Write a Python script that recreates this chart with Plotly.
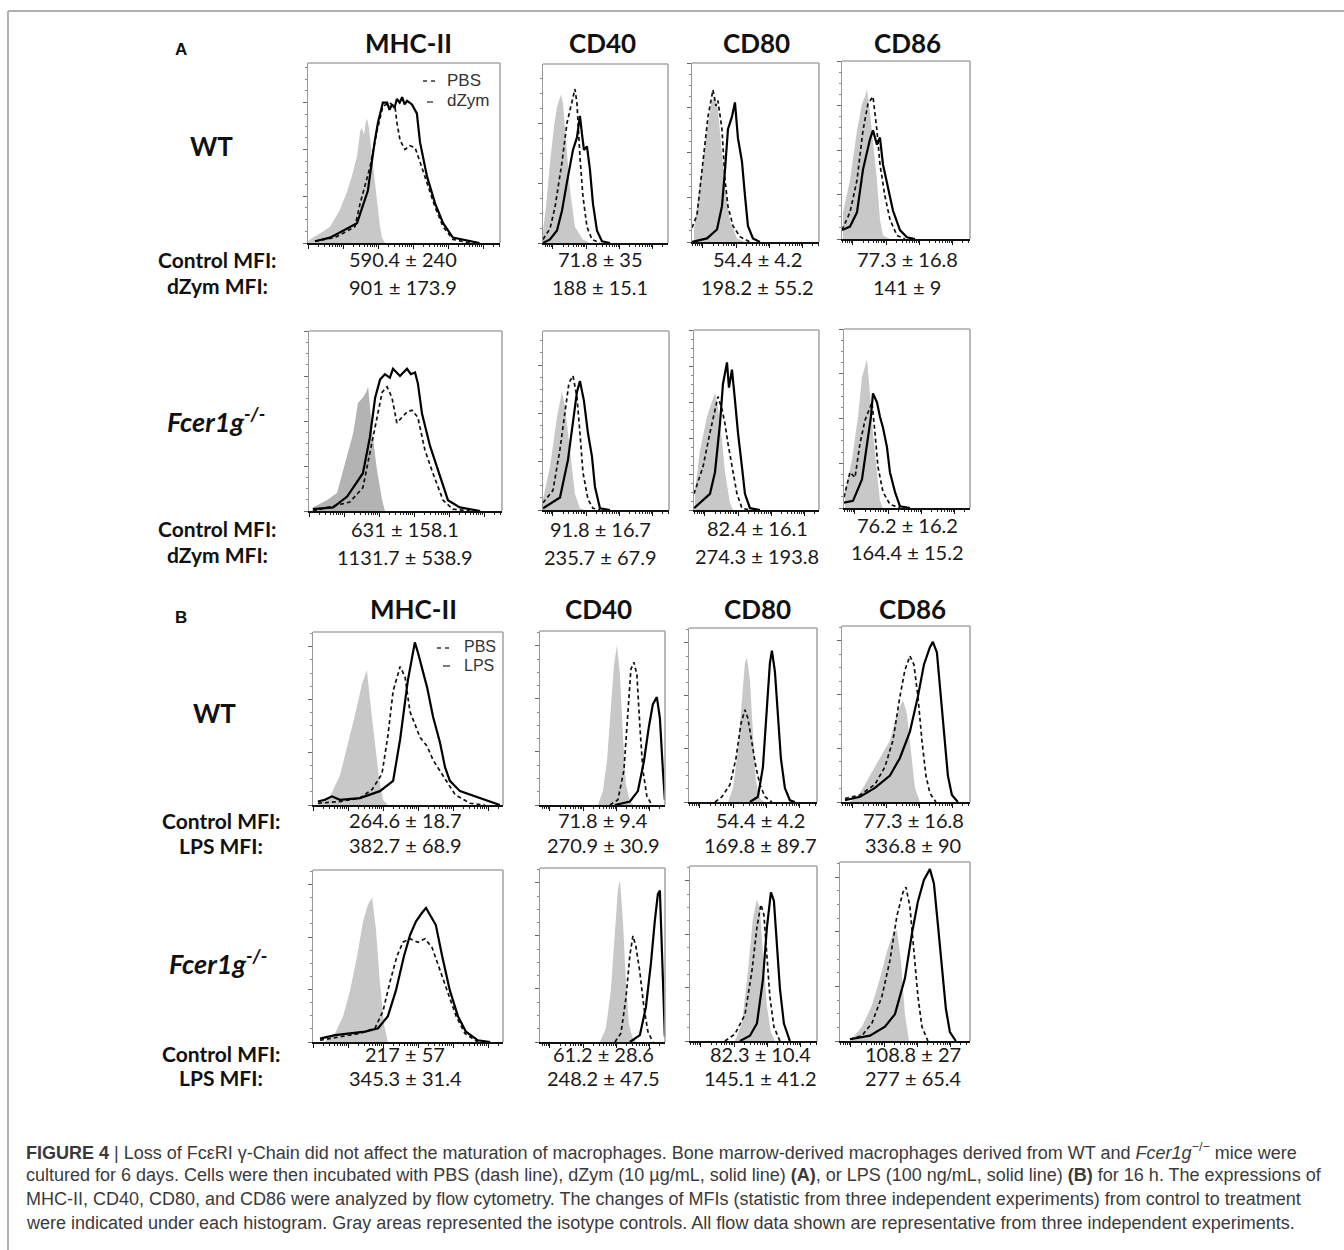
import math
import plotly.graph_objects as go

W, H = 1344, 1250

# ---------------- text data ----------------
markers = ["MHC-II", "CD40", "CD80", "CD86"]
a_wt_control = ["590.4 ± 240", "71.8 ± 35", "54.4 ± 4.2", "77.3 ± 16.8"]
a_wt_treat = ["901 ± 173.9", "188 ± 15.1", "198.2 ± 55.2", "141 ± 9"]
a_ko_control = ["631 ± 158.1", "91.8 ± 16.7", "82.4 ± 16.1", "76.2 ± 16.2"]
a_ko_treat = ["1131.7 ± 538.9", "235.7 ± 67.9", "274.3 ± 193.8", "164.4 ± 15.2"]
b_wt_control = ["264.6 ± 18.7", "71.8 ± 9.4", "54.4 ± 4.2", "77.3 ± 16.8"]
b_wt_treat = ["382.7 ± 68.9", "270.9 ± 30.9", "169.8 ± 89.7", "336.8 ± 90"]
b_ko_control = ["217 ± 57", "61.2 ± 28.6", "82.3 ± 10.4", "108.8 ± 27"]
b_ko_treat = ["345.3 ± 31.4", "248.2 ± 47.5", "145.1 ± 41.2", "277 ± 65.4"]

# ---------------- histogram data: [log10 fluorescence, % of mode] ----------------
# Panel A, WT
a_wt_mhc_iso = [[0.0, 1], [0.14, 3], [0.4, 6], [0.63, 9], [0.9, 18], [1.11, 28], [1.25, 37], [1.4, 48], [1.49, 62], [1.54, 64], [1.6, 60], [1.65, 67], [1.69, 69], [1.74, 64], [1.83, 48], [1.9, 35], [1.97, 22], [2.05, 10], [2.11, 3], [2.2, 0]]
a_wt_mhc_pbs = [[0.2, 1], [0.77, 3], [1.34, 9], [1.49, 22], [1.77, 42], [1.97, 62], [2.14, 76], [2.34, 78], [2.49, 75], [2.54, 67], [2.63, 57], [2.77, 52], [2.91, 54], [3.06, 53], [3.2, 45], [3.4, 33], [3.63, 20], [3.86, 9], [4.14, 2], [4.63, 0]]
a_wt_mhc_trt = [[0.2, 1], [0.63, 3], [1.4, 11], [1.71, 29], [1.91, 57], [2.0, 67], [2.14, 78], [2.26, 78], [2.33, 74], [2.4, 77], [2.47, 75], [2.54, 80], [2.62, 78], [2.69, 81], [2.76, 77], [2.83, 79], [2.97, 77], [3.11, 72], [3.2, 56], [3.4, 37], [3.63, 22], [3.86, 11], [4.14, 3], [4.63, 1], [4.9, 0]]
a_wt_cd40_iso = [[0.7, 7], [0.79, 20], [0.91, 45], [1.03, 65], [1.12, 76], [1.24, 83], [1.3, 78], [1.36, 63], [1.45, 45], [1.51, 30], [1.66, 9], [1.9, 2], [2.11, 0]]
a_wt_cd40_pbs = [[0.7, 2], [0.91, 8], [1.06, 20], [1.27, 45], [1.42, 67], [1.54, 76], [1.66, 86], [1.72, 78], [1.81, 48], [1.9, 26], [2.02, 9], [2.17, 2], [2.41, 0]]
a_wt_cd40_trt = [[0.7, 0], [0.91, 2], [1.12, 7], [1.27, 18], [1.42, 34], [1.6, 52], [1.72, 59], [1.81, 71], [1.87, 61], [1.93, 52], [2.02, 54], [2.11, 41], [2.2, 22], [2.32, 7], [2.47, 1], [2.71, 0]]
a_wt_cd80_iso = [[0.73, 7], [0.82, 20], [0.91, 35], [1.03, 50], [1.12, 63], [1.27, 79], [1.36, 81], [1.45, 74], [1.57, 50], [1.66, 31], [1.81, 12], [2.02, 2], [2.26, 0]]
a_wt_cd80_pbs = [[0.67, 8], [0.82, 15], [1.0, 45], [1.15, 70], [1.3, 85], [1.39, 76], [1.45, 79], [1.57, 63], [1.66, 35], [1.75, 20], [1.9, 9], [2.11, 3], [2.41, 0]]
a_wt_cd80_trt = [[0.67, 0], [1.12, 2], [1.42, 7], [1.57, 20], [1.66, 40], [1.75, 63], [1.87, 70], [1.96, 78], [2.05, 58], [2.17, 45], [2.26, 26], [2.35, 9], [2.5, 2], [2.71, 0]]
a_wt_cd86_iso = [[0.7, 15], [0.91, 33], [1.12, 61], [1.27, 76], [1.36, 80], [1.42, 84], [1.51, 71], [1.6, 56], [1.72, 33], [1.81, 11], [1.9, 2], [2.11, 0]]
a_wt_cd86_pbs = [[0.67, 5], [0.91, 15], [1.12, 33], [1.3, 61], [1.45, 76], [1.6, 80], [1.72, 61], [1.81, 42], [1.96, 24], [2.11, 11], [2.32, 2], [2.56, 0]]
a_wt_cd86_trt = [[0.67, 5], [0.91, 7], [1.12, 15], [1.3, 39], [1.51, 56], [1.6, 61], [1.72, 53], [1.81, 57], [1.9, 42], [2.05, 29], [2.2, 16], [2.41, 5], [2.62, 1], [2.86, 0]]
# Panel A, Fcer1g-/-
a_ko_mhc_iso = [[0.11, 2], [0.51, 6], [0.8, 10], [1.09, 30], [1.26, 43], [1.4, 60], [1.54, 63], [1.63, 66], [1.69, 69], [1.8, 45], [1.94, 23], [2.09, 6], [2.17, 0]]
a_ko_mhc_pbs = [[0.11, 0], [1.17, 5], [1.54, 13], [1.74, 32], [1.94, 51], [2.09, 66], [2.23, 69], [2.37, 63], [2.51, 49], [2.66, 52], [2.8, 55], [2.94, 56], [3.11, 52], [3.31, 34], [3.54, 21], [3.83, 6], [4.11, 1], [4.6, 0]]
a_ko_mhc_trt = [[0.11, 1], [0.69, 2], [1.09, 8], [1.54, 21], [1.74, 41], [1.89, 63], [2.03, 73], [2.17, 76], [2.31, 74], [2.4, 79], [2.6, 75], [2.8, 79], [2.91, 76], [3.03, 77], [3.11, 71], [3.23, 54], [3.46, 36], [3.74, 19], [3.97, 6], [4.31, 2], [4.89, 0]]
a_ko_cd40_iso = [[0.7, 6], [0.91, 24], [1.12, 52], [1.27, 66], [1.36, 58], [1.45, 43], [1.57, 24], [1.66, 9], [1.81, 1], [1.96, 0]]
a_ko_cd40_pbs = [[0.7, 4], [1.0, 11], [1.21, 34], [1.36, 56], [1.48, 71], [1.6, 75], [1.72, 63], [1.81, 43], [1.9, 21], [2.05, 6], [2.2, 1], [2.41, 0]]
a_ko_cd40_trt = [[0.7, 1], [1.21, 7], [1.45, 28], [1.6, 49], [1.72, 66], [1.81, 72], [1.93, 61], [2.05, 43], [2.17, 30], [2.26, 13], [2.41, 1], [2.71, 0]]
a_ko_cd80_iso = [[0.7, 11], [0.85, 33], [1.06, 52], [1.21, 61], [1.3, 65], [1.39, 57], [1.51, 39], [1.6, 21], [1.75, 4], [1.84, 0]]
a_ko_cd80_pbs = [[0.67, 9], [0.94, 24], [1.15, 43], [1.3, 56], [1.39, 63], [1.51, 56], [1.6, 48], [1.69, 37], [1.81, 24], [1.96, 9], [2.11, 1], [2.35, 0]]
a_ko_cd80_trt = [[0.67, 1], [1.15, 9], [1.3, 21], [1.45, 48], [1.54, 70], [1.66, 82], [1.72, 68], [1.81, 78], [1.9, 61], [1.99, 43], [2.11, 24], [2.2, 9], [2.35, 1], [2.65, 0]]
a_ko_cd86_iso = [[0.7, 9], [0.91, 27], [1.09, 51], [1.21, 73], [1.3, 79], [1.36, 83], [1.45, 64], [1.54, 42], [1.66, 20], [1.75, 4], [1.84, 0]]
a_ko_cd86_pbs = [[0.67, 6], [0.85, 20], [1.0, 17], [1.15, 36], [1.3, 49], [1.45, 56], [1.51, 59], [1.6, 42], [1.69, 23], [1.84, 9], [2.05, 2], [2.35, 0]]
a_ko_cd86_trt = [[0.67, 3], [0.94, 4], [1.21, 16], [1.36, 34], [1.48, 51], [1.54, 64], [1.66, 59], [1.75, 51], [1.84, 45], [1.96, 34], [2.05, 20], [2.2, 9], [2.35, 1], [2.65, 0]]
# Panel B, WT
b_wt_mhc_iso = [[0.14, 1], [0.49, 5], [0.77, 17], [1.0, 35], [1.2, 52], [1.4, 70], [1.54, 78], [1.66, 55], [1.77, 35], [1.89, 15], [2.0, 3], [2.14, 0]]
b_wt_mhc_pbs = [[0.14, 1], [0.77, 2], [1.34, 4], [1.69, 9], [1.97, 18], [2.14, 40], [2.29, 66], [2.49, 80], [2.63, 74], [2.77, 54], [3.06, 39], [3.26, 34], [3.43, 26], [3.69, 18], [4.06, 6], [4.49, 1], [4.91, 0]]
b_wt_mhc_trt = [[0.14, 2], [0.34, 3], [0.54, 5], [0.77, 3], [1.34, 4], [1.91, 8], [2.29, 14], [2.49, 38], [2.71, 72], [2.91, 94], [3.0, 88], [3.14, 78], [3.26, 68], [3.43, 51], [3.63, 36], [3.77, 22], [3.91, 14], [4.2, 8], [4.49, 6], [5.06, 2], [5.34, 0]]
b_wt_cd40_iso = [[2.44, 0], [2.59, 8], [2.71, 25], [2.83, 55], [2.92, 80], [3.01, 92], [3.1, 75], [3.19, 40], [3.28, 12], [3.4, 2], [3.52, 0]]
b_wt_cd40_pbs = [[2.8, 0], [3.04, 3], [3.22, 20], [3.34, 55], [3.43, 78], [3.52, 82], [3.61, 75], [3.7, 45], [3.79, 20], [3.91, 5], [4.06, 0]]
b_wt_cd40_trt = [[2.95, 0], [3.4, 2], [3.64, 8], [3.82, 25], [3.97, 45], [4.09, 58], [4.21, 62], [4.3, 50], [4.39, 20], [4.45, 3]]
b_wt_cd80_iso = [[1.84, 0], [1.99, 8], [2.14, 30], [2.26, 60], [2.35, 80], [2.41, 83], [2.5, 70], [2.59, 40], [2.68, 12], [2.8, 2], [2.95, 0]]
b_wt_cd80_pbs = [[1.45, 0], [1.66, 3], [1.9, 10], [2.08, 25], [2.23, 45], [2.35, 53], [2.44, 48], [2.56, 35], [2.68, 20], [2.8, 10], [2.95, 3], [3.16, 0]]
b_wt_cd80_trt = [[2.5, 0], [2.74, 3], [2.89, 20], [3.01, 55], [3.1, 80], [3.16, 87], [3.25, 75], [3.34, 50], [3.43, 25], [3.55, 8], [3.7, 1], [3.85, 0]]
b_wt_cd86_iso = [[0.91, 0], [1.21, 5], [1.51, 15], [1.81, 25], [2.11, 35], [2.32, 50], [2.5, 58], [2.62, 50], [2.74, 30], [2.86, 8], [3.01, 0]]
b_wt_cd86_pbs = [[0.76, 2], [1.21, 4], [1.66, 10], [1.96, 20], [2.2, 35], [2.41, 60], [2.56, 75], [2.71, 83], [2.83, 78], [2.95, 60], [3.07, 35], [3.19, 15], [3.31, 5], [3.49, 0]]
b_wt_cd86_trt = [[0.76, 1], [1.21, 3], [1.66, 8], [2.11, 15], [2.41, 25], [2.71, 40], [2.95, 60], [3.13, 78], [3.31, 88], [3.4, 91], [3.52, 85], [3.64, 60], [3.76, 35], [3.85, 15], [3.97, 4], [4.15, 0]]
# Panel B, Fcer1g-/-
b_ko_mhc_iso = [[0.34, 0], [0.63, 5], [0.86, 15], [1.06, 30], [1.26, 50], [1.43, 70], [1.57, 80], [1.69, 84], [1.8, 65], [1.91, 35], [2.03, 10], [2.14, 0]]
b_ko_mhc_pbs = [[0.2, 1], [0.77, 3], [1.34, 5], [1.77, 8], [2.0, 18], [2.2, 35], [2.4, 50], [2.57, 58], [2.77, 60], [3.0, 58], [3.2, 60], [3.4, 55], [3.63, 42], [3.86, 28], [4.09, 15], [4.34, 5], [4.71, 0]]
b_ko_mhc_trt = [[0.2, 2], [0.63, 4], [1.06, 5], [1.49, 6], [1.86, 8], [2.14, 15], [2.37, 30], [2.6, 50], [2.77, 62], [2.94, 70], [3.11, 75], [3.23, 78], [3.34, 74], [3.51, 68], [3.69, 50], [3.91, 30], [4.14, 15], [4.37, 6], [4.71, 1], [5.06, 0]]
b_ko_cd40_iso = [[2.5, 0], [2.68, 8], [2.83, 30], [2.95, 65], [3.04, 88], [3.1, 93], [3.19, 70], [3.28, 35], [3.37, 10], [3.49, 2], [3.61, 0]]
b_ko_cd40_pbs = [[2.95, 0], [3.13, 5], [3.28, 25], [3.4, 50], [3.49, 61], [3.58, 55], [3.7, 40], [3.82, 20], [3.94, 6], [4.09, 0]]
b_ko_cd40_trt = [[3.4, 0], [3.7, 4], [3.88, 20], [4.03, 45], [4.15, 70], [4.24, 85], [4.3, 87], [4.36, 55], [4.42, 15], [4.45, 3]]
b_ko_cd80_iso = [[2.02, 0], [2.23, 10], [2.41, 40], [2.56, 70], [2.68, 81], [2.77, 75], [2.86, 50], [2.98, 20], [3.1, 5], [3.22, 0]]
b_ko_cd80_pbs = [[1.72, 0], [2.02, 4], [2.32, 15], [2.53, 40], [2.68, 65], [2.8, 78], [2.89, 72], [2.98, 50], [3.07, 25], [3.19, 8], [3.37, 0]]
b_ko_cd80_trt = [[2.17, 0], [2.47, 3], [2.68, 10], [2.86, 35], [2.98, 65], [3.1, 85], [3.19, 80], [3.28, 55], [3.37, 30], [3.49, 10], [3.67, 0]]
b_ko_cd86_iso = [[0.97, 0], [1.33, 8], [1.63, 20], [1.87, 35], [2.08, 50], [2.26, 60], [2.38, 62], [2.5, 45], [2.62, 15], [2.74, 0]]
b_ko_cd86_pbs = [[0.97, 1], [1.33, 3], [1.63, 10], [1.93, 25], [2.17, 45], [2.38, 70], [2.56, 83], [2.65, 86], [2.77, 75], [2.89, 50], [3.01, 25], [3.13, 8], [3.31, 0]]
b_ko_cd86_trt = [[0.97, 1], [1.57, 3], [2.02, 8], [2.32, 15], [2.62, 35], [2.83, 60], [3.01, 78], [3.19, 90], [3.37, 96], [3.49, 88], [3.61, 65], [3.73, 40], [3.85, 18], [3.97, 5], [4.15, 0]]

# ---------------- layout (pixel boxes: left, top, right, bottom) ----------------
col_x0 = [0.0, 0.7, 0.67, 0.67]          # left edge of each column's log axis
col_px_per_decade = [35.0, 33.3, 33.3, 33.3]
rows = [
    dict(boxes=[[308, 63, 500, 243], [543, 64, 668, 243], [692, 63, 819, 242], [842, 61, 970, 239]],
         ystep=[26, 33.5, 25, 25],
         data=[(a_wt_mhc_iso, a_wt_mhc_pbs, a_wt_mhc_trt), (a_wt_cd40_iso, a_wt_cd40_pbs, a_wt_cd40_trt),
               (a_wt_cd80_iso, a_wt_cd80_pbs, a_wt_cd80_trt), (a_wt_cd86_iso, a_wt_cd86_pbs, a_wt_cd86_trt)]),
    dict(boxes=[[309, 331, 502, 511], [543, 331, 669, 510], [694, 330, 819, 510], [844, 329, 970, 508]],
         ystep=[25, 27, 20, 25],
         data=[(a_ko_mhc_iso, a_ko_mhc_pbs, a_ko_mhc_trt), (a_ko_cd40_iso, a_ko_cd40_pbs, a_ko_cd40_trt),
               (a_ko_cd80_iso, a_ko_cd80_pbs, a_ko_cd80_trt), (a_ko_cd86_iso, a_ko_cd86_pbs, a_ko_cd86_trt)]),
    dict(boxes=[[313, 632, 503, 805], [540, 631, 665, 805], [689, 628, 817, 802], [842, 626, 970, 802]],
         ystep=[30.5, 30.5, 30.5, 30.5],
         data=[(b_wt_mhc_iso, b_wt_mhc_pbs, b_wt_mhc_trt), (b_wt_cd40_iso, b_wt_cd40_pbs, b_wt_cd40_trt),
               (b_wt_cd80_iso, b_wt_cd80_pbs, b_wt_cd80_trt), (b_wt_cd86_iso, b_wt_cd86_pbs, b_wt_cd86_trt)]),
    dict(boxes=[[313, 870, 503, 1042], [540, 868, 665, 1042], [690, 866, 817, 1041], [840, 862, 970, 1041]],
         ystep=[30.5, 30.5, 30.5, 30.5],
         data=[(b_ko_mhc_iso, b_ko_mhc_pbs, b_ko_mhc_trt), (b_ko_cd40_iso, b_ko_cd40_pbs, b_ko_cd40_trt),
               (b_ko_cd80_iso, b_ko_cd80_pbs, b_ko_cd80_trt), (b_ko_cd86_iso, b_ko_cd86_pbs, b_ko_cd86_trt)]),
]

fig = go.Figure()
layout = {}
shapes = []
annotations = []


def px(x):
    return x / W


def py(y):
    return 1 - y / H


ax_i = 0
for r, row in enumerate(rows):
    for c in range(4):
        ax_i += 1
        L, T, R, B = row["boxes"][c]
        x0 = col_x0[c]
        x1 = x0 + (R - L) / col_px_per_decade[c]
        xname = "xaxis" if ax_i == 1 else f"xaxis{ax_i}"
        yname = "yaxis" if ax_i == 1 else f"yaxis{ax_i}"
        xref = "x" if ax_i == 1 else f"x{ax_i}"
        yref = "y" if ax_i == 1 else f"y{ax_i}"

        majors = [10 ** k for k in range(math.ceil(x0), math.floor(x1) + 1)]
        minors = []
        for k in range(math.floor(x0), math.ceil(x1) + 1):
            for m in range(2, 10):
                v = math.log10(m) + k
                if x0 < v < x1:
                    minors.append(m * 10 ** k)
        step = row["ystep"][c]
        ymaj = []
        v = 0.0
        while v <= 100:
            ymaj.append(v)
            v += step
        ymin = []
        v = 0.0
        while v <= 100:
            ymin.append(v)
            v += step / 4

        layout[xname] = dict(domain=[px(L), px(R)], type="log", range=[x0, x1], anchor=yref,
                             showgrid=False, zeroline=False, showline=True, linecolor="#111", linewidth=1.6,
                             ticks="outside", ticklen=4, tickwidth=1, tickcolor="#111",
                             tickmode="array", tickvals=majors, showticklabels=False,
                             minor=dict(tickmode="array", tickvals=minors, ticks="outside", ticklen=2.5,
                                        tickwidth=1, tickcolor="#222", showgrid=False),
                             fixedrange=True)
        layout[yname] = dict(domain=[py(B), py(T)], range=[0, 100], anchor=xref,
                             showgrid=False, zeroline=False, showline=True, linecolor="#999", linewidth=1.2,
                             ticks="outside", ticklen=4, tickwidth=1, tickcolor="#666",
                             tickmode="array", tickvals=ymaj, showticklabels=False,
                             minor=dict(tickmode="array", tickvals=ymin, ticks="outside", ticklen=2,
                                        tickwidth=1, tickcolor="#888", showgrid=False),
                             fixedrange=True)
        # top and right frame lines
        shapes.append(dict(type="line", xref=f"{xref} domain", yref=f"{yref} domain", x0=0, x1=1, y0=1, y1=1,
                           line=dict(color="#a8a8a8", width=1.6)))
        shapes.append(dict(type="line", xref=f"{xref} domain", yref=f"{yref} domain", x0=1, x1=1, y0=0, y1=1,
                           line=dict(color="#a8a8a8", width=1.6)))

        iso, pbs, trt = row["data"][c]
        fill = "#b3b3b3" if (r == 1 and c == 0) else "#c8c8c8"
        fig.add_trace(go.Scatter(x=[10 ** p[0] for p in iso], y=[p[1] for p in iso], mode="lines",
                                 fill="tozeroy", fillcolor=fill, line=dict(width=0, color=fill),
                                 xaxis=xref, yaxis=yref, showlegend=False, hoverinfo="skip"))
        fig.add_trace(go.Scatter(x=[10 ** p[0] for p in pbs], y=[p[1] for p in pbs], mode="lines",
                                 line=dict(width=1.7, color="#111", dash="4px,3px"),
                                 xaxis=xref, yaxis=yref, showlegend=False, hoverinfo="skip"))
        fig.add_trace(go.Scatter(x=[10 ** p[0] for p in trt], y=[p[1] for p in trt], mode="lines",
                                 line=dict(width=2.2, color="#000"),
                                 xaxis=xref, yaxis=yref, showlegend=False, hoverinfo="skip"))

# ---------------- text ----------------
LBL = "Lato, 'Open Sans', sans-serif"


def text(x, y, s, size, color="#111", family=LBL, xanchor="center"):
    annotations.append(dict(x=px(x), y=py(y), xref="paper", yref="paper", text=s, showarrow=False,
                            xanchor=xanchor, yanchor="middle", font=dict(size=size, color=color, family=family)))


def seg(x0, x1, y, dash=None):
    shapes.append(dict(type="line", xref="paper", yref="paper", x0=px(x0), x1=px(x1), y0=py(y), y1=py(y),
                       line=dict(color="#333", width=1.3, dash=dash)))


text(181, 49, "<b>A</b>", 17, family="Arial, 'Liberation Sans', sans-serif")
text(181, 617, "<b>B</b>", 17, family="Arial, 'Liberation Sans', sans-serif")
title_x_a = [409, 602, 756, 907]
title_x_b = [413, 598, 757, 912]
for c in range(4):
    text(title_x_a[c], 43, f"<b>{markers[c]}</b>", 26)
    text(title_x_b[c], 609, f"<b>{markers[c]}</b>", 26)

text(211, 146, "<b>WT</b>", 26)
text(216, 420, "<b><i>Fcer1g</i><sup><i>-/-</i></sup></b>", 27)
text(215, 713, "<b>WT</b>", 26)
text(218, 962, "<b><i>Fcer1g</i><sup><i>-/-</i></sup></b>", 27)

row_label_y = [(259, 285), (528, 555), (820, 845), (1053, 1077)]
row_label_x = [217, 217, 221, 221]
treat_names = ["dZym MFI:", "dZym MFI:", "LPS MFI:", "LPS MFI:"]
val_x = [[403, 600, 757, 907], [405, 600, 757, 907], [405, 603, 760, 913], [405, 603, 760, 913]]
val_y = [[(259, 287)] * 4, [(529, 557), (529, 557), (528, 556), (525, 552)],
         [(820, 845)] * 4, [(1054, 1078)] * 4]
controls = [a_wt_control, a_ko_control, b_wt_control, b_ko_control]
treats = [a_wt_treat, a_ko_treat, b_wt_treat, b_ko_treat]
for r in range(4):
    text(row_label_x[r], row_label_y[r][0], "<b>Control MFI:</b>", 21)
    text(row_label_x[r], row_label_y[r][1], f"<b>{treat_names[r]}</b>", 21)
    for c in range(4):
        text(val_x[r][c], val_y[r][c][0], controls[r][c], 20, color="#1a1a1a")
        text(val_x[r][c], val_y[r][c][1], treats[r][c], 20, color="#1a1a1a")

# in-panel legends (line samples drawn as short segments)
LEG = "Arial, 'Liberation Sans', sans-serif"
seg(423, 437, 81, dash="4px,4px")
text(445, 80, "PBS", 17, color="#333", family=LEG, xanchor="left")
seg(427, 433, 102)
text(445, 101, "dZym", 17, color="#333", family=LEG, xanchor="left")
seg(437, 451, 648, dash="4px,4px")
text(462, 647, "PBS", 16, color="#333", family=LEG, xanchor="left")
seg(443, 450, 666)
text(462, 665, "LPS", 16, color="#333", family=LEG, xanchor="left")

# caption
CAP = "'Liberation Sans', Arial, sans-serif"
caption_lines = [
    "<b>FIGURE 4</b> | Loss of FcεRI γ-Chain did not affect the maturation of macrophages. Bone marrow-derived macrophages derived from WT and <i>Fcer1g</i><sup>−/−</sup> mice were",
    "cultured for 6 days. Cells were then incubated with PBS (dash line), dZym (10 µg/mL, solid line) <b>(A)</b>, or LPS (100 ng/mL, solid line) <b>(B)</b> for 16 h. The expressions of",
    "MHC-II, CD40, CD80, and CD86 were analyzed by flow cytometry. The changes of MFIs (statistic from three independent experiments) from control to treatment",
    "were indicated under each histogram. Gray areas represented the isotype controls. All flow data shown are representative from three independent experiments.",
]
cap_y = [1151, 1175, 1199, 1223]
for s, yy in zip(caption_lines, cap_y):
    text(24, yy, s, 18, color="#3a3a3a", family=CAP, xanchor="left")

# outer border (top and left)
shapes.append(dict(type="line", xref="paper", yref="paper", x0=px(8), x1=1, y0=py(11), y1=py(11),
                   line=dict(color="#b0b0b0", width=2)))
shapes.append(dict(type="line", xref="paper", yref="paper", x0=px(8), x1=px(8), y0=py(11), y1=0,
                   line=dict(color="#b0b0b0", width=2)))

fig.update_layout(width=W, height=H, margin=dict(l=0, r=0, t=0, b=0), paper_bgcolor="white",
                  plot_bgcolor="white", showlegend=False, shapes=shapes, annotations=annotations, **layout)

fig.write_html("out.html", config={"displayModeBar": False},
               post_script="document.body.style.margin='0px';")
